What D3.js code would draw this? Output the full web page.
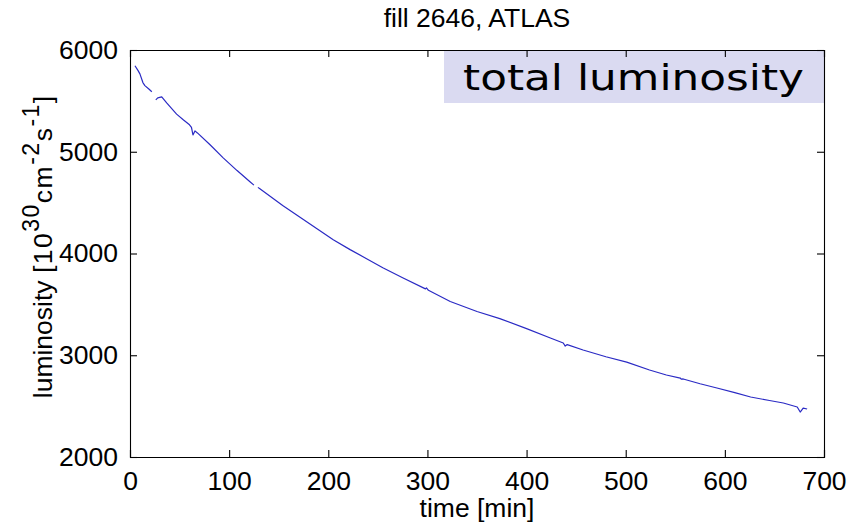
<!DOCTYPE html>
<html>
<head>
<meta charset="utf-8">
<script src="https://cdn.jsdelivr.net/npm/d3@7"></script>
<style>
  html, body { margin: 0; padding: 0; background: #fff; }
  svg { display: block; }
  text { font-family: "Liberation Sans", Arial, sans-serif; fill: #000; }
</style>
</head>
<body>
<svg id="chart" width="850" height="529"></svg>
<script>
// ---- data ----
const timeMin = [5, 8, 10, 13, 15, 19, 22, null, 26, 28, 32, 37, 47, 54, 60, 62, 63.5, 65.5, 68, 81, 94, 108, 121, 125, null,
  129, 131, 154, 170, 189, 205, 222, 240, 255, 275, 298, 299, 301, 323, 350, 373, 400, 424, 437, 439, 441, 457, 480, 501,
  524, 541, 555, 556, 558, 575, 592, 610, 626, 645, 659, 673, 676, 679, 683];
const luminosity = [5845, 5800, 5765, 5680, 5650, 5617, 5590, null, 5510, 5530, 5540, 5480, 5370, 5312, 5265, 5240, 5165, 5205, 5185, 5066, 4940, 4815, 4705, 4672, null,
  4650, 4636, 4472, 4366, 4240, 4135, 4038, 3942, 3860, 3762, 3652, 3662, 3638, 3528, 3430, 3360, 3262, 3170, 3120, 3090, 3105, 3052, 2985, 2933,
  2855, 2806, 2776, 2766, 2767, 2720, 2678, 2632, 2590, 2555, 2531, 2491, 2442, 2481, 2472];
const xTicks = [0, 100, 200, 300, 400, 500, 600, 700];
const yTicks = [2000, 3000, 4000, 5000, 6000];
const titleText = "fill 2646, ATLAS";
const xLabel = "time [min]";
const boxLabel = "total luminosity";

// ---- layout ----
const pL = 130, pR = 824, pT = 50, pB = 457;
const svg = d3.select("#chart");

const x = d3.scaleLinear().domain([0, 700]).range([pL, pR]);
const y = d3.scaleLinear().domain([2000, 6000]).range([pB, pT]);

// label box
svg.append("rect")
  .attr("x", 444).attr("y", pT + 1)
  .attr("width", pR - 444).attr("height", 52)
  .attr("fill", "#dadaf1");
svg.append("text")
  .attr("x", 463).attr("y", 90)
  .attr("textLength", 341).attr("lengthAdjust", "spacingAndGlyphs")
  .style("font-family", "'DejaVu Sans', Verdana, sans-serif")
  .style("font-size", "36px")
  .text(boxLabel);

// data line
const pts = timeMin.map((t, i) => ({ t: t, v: luminosity[i] }));
const line = d3.line()
  .defined(d => d.t !== null && d.v !== null)
  .x(d => x(d.t)).y(d => y(d.v));
svg.append("path")
  .datum(pts)
  .attr("d", line)
  .attr("fill", "none")
  .attr("stroke", "#2a2ac4")
  .attr("stroke-width", 1.2)
  .attr("stroke-linejoin", "round");

// axes (ticks pointing inward, mirrored on top/right)
const tickLen = 7;
const fs = "26.5px";
const axB = svg.append("g").attr("transform", `translate(0,${pB})`)
  .call(d3.axisBottom(x).tickValues(xTicks).tickSize(-tickLen).tickPadding(14).tickFormat(d3.format("d")));
const axT = svg.append("g").attr("transform", `translate(0,${pT})`)
  .call(d3.axisTop(x).tickValues(xTicks).tickSize(-tickLen).tickFormat(""));
const axL = svg.append("g").attr("transform", `translate(${pL},0)`)
  .call(d3.axisLeft(y).tickValues(yTicks).tickSize(-tickLen).tickPadding(12).tickFormat(d3.format("d")));
const axR = svg.append("g").attr("transform", `translate(${pR},0)`)
  .call(d3.axisRight(y).tickValues(yTicks).tickSize(-tickLen).tickFormat(""));
[axB, axT, axL, axR].forEach(g => {
  g.select(".domain").attr("stroke", "#000").attr("stroke-width", 1.1);
  g.selectAll(".tick line").attr("stroke", "#000").attr("stroke-width", 1.1);
  g.selectAll("text").style("font-family", "'Liberation Sans', Arial, sans-serif").style("font-size", fs).attr("fill", "#000");
});

// title
svg.append("text")
  .attr("x", 477).attr("y", 27)
  .attr("text-anchor", "middle")
  .style("font-size", fs)
  .text(titleText);

// x label
svg.append("text")
  .attr("x", 477).attr("y", 517)
  .attr("text-anchor", "middle")
  .style("font-size", fs)
  .text(xLabel);

// y label with superscripts
const yl = svg.append("text")
  .attr("transform", "translate(52,247) rotate(-90)")
  .attr("text-anchor", "middle")
  .style("font-size", fs);
yl.append("tspan").text("luminosity ");
yl.append("tspan").style("letter-spacing", "1.5px").text("[10");
yl.append("tspan").attr("baseline-shift", "super").style("font-size", "23px").style("letter-spacing", "1.5px").text("30");
yl.append("tspan").style("letter-spacing", "1.5px").text("cm");
yl.append("tspan").attr("baseline-shift", "super").style("font-size", "23px").style("letter-spacing", "1.5px").text("-2");
yl.append("tspan").style("letter-spacing", "1.5px").text("s");
yl.append("tspan").attr("baseline-shift", "super").style("font-size", "23px").style("letter-spacing", "1.5px").text("-1");
yl.append("tspan").text("]");
</script>
</body>
</html>
